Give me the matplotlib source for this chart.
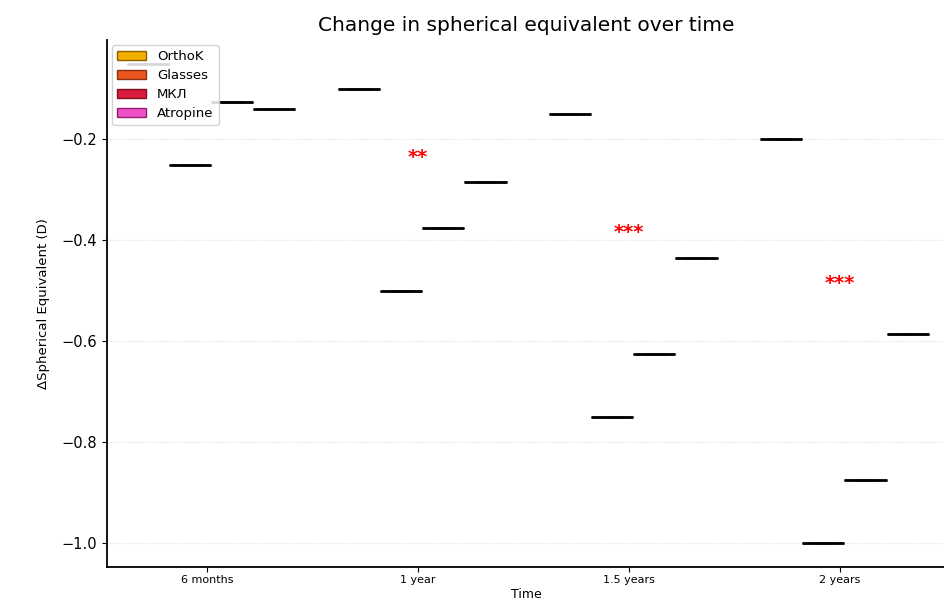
import numpy as np
import matplotlib
matplotlib.use("Agg")
from matplotlib import pyplot as plt
from matplotlib.patches import Patch

# data
times = ["6 months", "1 year", "1.5 years", "2 years"]
groups = ["OrthoK", "Glasses", "МКЛ", "Atropine"]
colors = ["#f0b000", "#e8561e", "#dc1c3c", "#f050c8"]
edges = ["#8a6000", "#8a3010", "#801020", "#902070"]

orthok = [-0.05, -0.10, -0.15, -0.20]
glasses = [-0.25, -0.50, -0.75, -1.00]
mkl = [-0.125, -0.375, -0.625, -0.875]
atropine = [-0.14, -0.285, -0.435, -0.585]

stars = ["", "**", "***", "***"]
star_y = [None, -0.235, -0.385, -0.485]

values = [orthok, glasses, mkl, atropine]
offsets = [-0.28, -0.08, 0.12, 0.32]

plt.rcParams['font.family'] = ['DejaVu Sans']
fig = plt.figure(figsize=(9.45, 6.02), dpi=100)
ax = fig.add_axes([0.113, 0.058, 0.887, 0.876])

x = np.arange(1, len(times) + 1)
for g in range(len(groups)):
    data = [[v] for v in values[g]]
    ax.boxplot(data, positions=x + offsets[g], widths=0.2, patch_artist=True,
               boxprops=dict(facecolor=colors[g], edgecolor="black", linewidth=1),
               medianprops=dict(color="black", linewidth=2),
               whiskerprops=dict(color="black"), capprops=dict(color="black"),
               showfliers=False, manage_ticks=False)

for i in range(len(times)):
    if stars[i]:
        ax.text(x[i], star_y[i], stars[i], color="red", fontsize=14,
                fontweight="bold", ha="center", va="center")

ax.set_xticks(x)
ax.set_xticklabels(times, fontsize=8)
ax.tick_params(axis='x', pad=2.5)
ax.set_yticks([-1.0, -0.8, -0.6, -0.4, -0.2])
ax.tick_params(axis='y', labelsize=10.5)
ax.set_xlim(0.526, 4.497)
ax.set_ylim(-1.0475, -0.0025)
ax.yaxis.grid(True, linestyle=":", color="#dddddd", linewidth=0.8)
ax.set_axisbelow(True)
ax.spines['top'].set_visible(False)
ax.spines['right'].set_visible(False)
ax.spines['left'].set_linewidth(1.3)
ax.spines['bottom'].set_linewidth(1.3)

ax.set_xlabel("Time", fontsize=9, labelpad=2)
ax.set_ylabel("ΔSpherical Equivalent (D)", fontsize=9.5, labelpad=8)
ax.set_title("Change in spherical equivalent over time", fontsize=14.5, pad=6)

handles = [Patch(facecolor=colors[i], edgecolor=edges[i], label=groups[i])
           for i in range(len(groups))]
ax.legend(handles=handles, loc="upper left", fontsize=9.5, framealpha=0.85,
          handlelength=2.2, borderaxespad=0.4, labelspacing=0.45)

fig.savefig("out.png", dpi=100)
